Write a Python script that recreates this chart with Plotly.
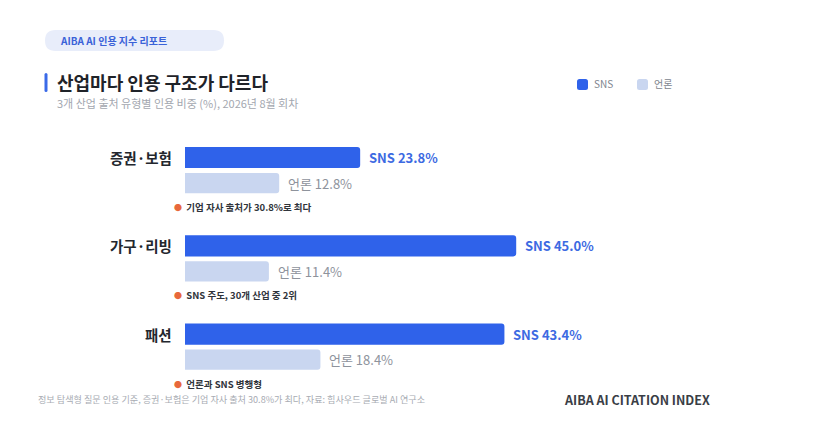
import plotly.graph_objects as go

# ---- data ----
categories = ["증권·보험", "가구·리빙", "패션"]
sns_values = [23.8, 45.0, 43.4]
media_values = [12.8, 11.4, 18.4]
notes = ["기업 자사 출처가 30.8%로 최다", "SNS 주도, 30개 산업 중 2위", "언론과 SNS 병행형"]
series_names = ["SNS", "언론"]

title = "산업마다 인용 구조가 다르다"
subtitle = "3개 산업 출처 유형별 인용 비중 (%), 2026년 8월 회차"
badge = "AIBA AI 인용 지수 리포트"
footer_left = "정보 탐색형 질문 인용 기준, 증권·보험은 기업 자사 출처 30.8%가 최다, 자료: 힘사우드 글로벌 AI 연구소"
footer_right = "AIBA AI CITATION INDEX"

# ---- layout constants ----
W, H = 819, 431
OFF = 8                # page body margin offset
FONT = "Noto Sans CJK KR"
SNS_C = "#2f62ea"
MEDIA_C = "#c9d6f0"
PLOT_X0 = 185 - OFF    # px where value 0 sits
PX_PER_PCT = 7.36
GROUP_PX = 88.3
FIRST_PX = 157.5 - OFF
MEDIA_OFF = 0.29
NOTE_OFF = 0.56


def px(x):
    return (x - OFF) / W


def py(y):
    return 1 - (y - OFF) / H


def rrect(x0, y0, x1, y1, r):
    pts = (
        f"M {px(x0 + r)},{py(y0)} L {px(x1 - r)},{py(y0)} "
        f"Q {px(x1)},{py(y0)} {px(x1)},{py(y0 + r)} "
        f"L {px(x1)},{py(y1 - r)} Q {px(x1)},{py(y1)} {px(x1 - r)},{py(y1)} "
        f"L {px(x0 + r)},{py(y1)} Q {px(x0)},{py(y1)} {px(x0)},{py(y1 - r)} "
        f"L {px(x0)},{py(y0 + r)} Q {px(x0)},{py(y0)} {px(x0 + r)},{py(y0)} Z"
    )
    return pts


idx = list(range(len(categories)))
y_sns = [i for i in idx]
y_media = [i + MEDIA_OFF for i in idx]

fig = go.Figure()
fig.add_trace(go.Bar(
    x=sns_values, y=y_sns, orientation="h", width=0.24,
    marker=dict(color=SNS_C, cornerradius=3, line=dict(width=0)),
    name=series_names[0], hoverinfo="skip",
))
fig.add_trace(go.Bar(
    x=media_values, y=y_media, orientation="h", width=0.23,
    marker=dict(color=MEDIA_C, cornerradius=3, line=dict(width=0)),
    name=series_names[1], hoverinfo="skip",
))

ann = []
for i, c in enumerate(categories):
    ann.append(dict(x=0, y=y_sns[i], xref="x", yref="y", text=f"<b>{c}</b>",
                    xanchor="right", yanchor="middle", xshift=-11, showarrow=False,
                    font=dict(family=FONT, size=14.5, color="#23272e")))
    ann.append(dict(x=sns_values[i], y=y_sns[i], xref="x", yref="y",
                    text=f"<b>{series_names[0]} {sns_values[i]:.1f}%</b>",
                    xanchor="left", yanchor="middle", xshift=7, showarrow=False,
                    font=dict(family=FONT, size=13, color="#3d6ae2")))
    ann.append(dict(x=media_values[i], y=y_media[i], xref="x", yref="y",
                    text=f"{series_names[1]} {media_values[i]:.1f}%",
                    xanchor="left", yanchor="middle", xshift=7, showarrow=False,
                    font=dict(family=FONT, size=13, color="#8e939c")))
    ann.append(dict(x=0, y=i + NOTE_OFF, xref="x", yref="y",
                    text=f"<span style='color:#e8683c;font-size:8px'>●</span>  <b>{notes[i]}</b>",
                    xanchor="left", yanchor="middle", xshift=-13, showarrow=False,
                    font=dict(family=FONT, size=9.5, color="#30343b")))

# header texts
ann.append(dict(x=px(58), y=py(41), xref="paper", yref="paper", text=f"<b>{badge}</b>",
                xanchor="left", yanchor="middle", showarrow=False,
                font=dict(family=FONT, size=10, color="#3a62d8")))
ann.append(dict(x=px(55), y=py(82), xref="paper", yref="paper", text=f"<b>{title}</b>",
                xanchor="left", yanchor="middle", showarrow=False,
                font=dict(family=FONT, size=18, color="#1f2329")))
ann.append(dict(x=px(55), y=py(103), xref="paper", yref="paper", text=subtitle,
                xanchor="left", yanchor="middle", showarrow=False,
                font=dict(family=FONT, size=11, color="#a3a7af")))
# legend
ann.append(dict(x=px(592), y=py(84), xref="paper", yref="paper", text=series_names[0],
                xanchor="left", yanchor="middle", showarrow=False,
                font=dict(family=FONT, size=10, color="#80858e")))
ann.append(dict(x=px(652), y=py(84), xref="paper", yref="paper", text=series_names[1],
                xanchor="left", yanchor="middle", showarrow=False,
                font=dict(family=FONT, size=10, color="#80858e")))
# footer
ann.append(dict(x=px(36), y=py(399), xref="paper", yref="paper", text=footer_left,
                xanchor="left", yanchor="middle", showarrow=False,
                font=dict(family=FONT, size=9.1, color="#a8acb3")))
ann.append(dict(x=px(712), y=py(399), xref="paper", yref="paper", text=f"<b>{footer_right}</b>",
                xanchor="right", yanchor="middle", showarrow=False,
                font=dict(family=FONT, size=12.5, color="#3a3e46")))

shapes = [
    dict(type="path", xref="paper", yref="paper", path=rrect(45, 30, 224, 51, 10.5),
         fillcolor="#e8edfa", line=dict(width=0), layer="below"),
    dict(type="path", xref="paper", yref="paper", path=rrect(44.5, 73, 47.5, 92, 1.5),
         fillcolor="#3a6ae8", line=dict(width=0)),
    dict(type="path", xref="paper", yref="paper", path=rrect(577, 79, 588, 90, 2.5),
         fillcolor=SNS_C, line=dict(width=0)),
    dict(type="path", xref="paper", yref="paper", path=rrect(637, 79, 648, 90, 2.5),
         fillcolor=MEDIA_C, line=dict(width=0)),
]

y_top = -FIRST_PX / GROUP_PX
y_bot = (H - FIRST_PX) / GROUP_PX

fig.update_layout(
    width=W, height=H,
    margin=dict(l=0, r=0, t=0, b=0, pad=0, autoexpand=False),
    paper_bgcolor="white", plot_bgcolor="rgba(0,0,0,0)",
    showlegend=False, barmode="overlay",
    xaxis=dict(domain=[PLOT_X0 / W, 1], range=[0, (W - PLOT_X0) / PX_PER_PCT],
               visible=False, fixedrange=True),
    yaxis=dict(domain=[0, 1], range=[y_bot, y_top], visible=False, fixedrange=True),
    annotations=ann, shapes=shapes,
    font=dict(family=FONT),
)

fig.write_html("out.html")
